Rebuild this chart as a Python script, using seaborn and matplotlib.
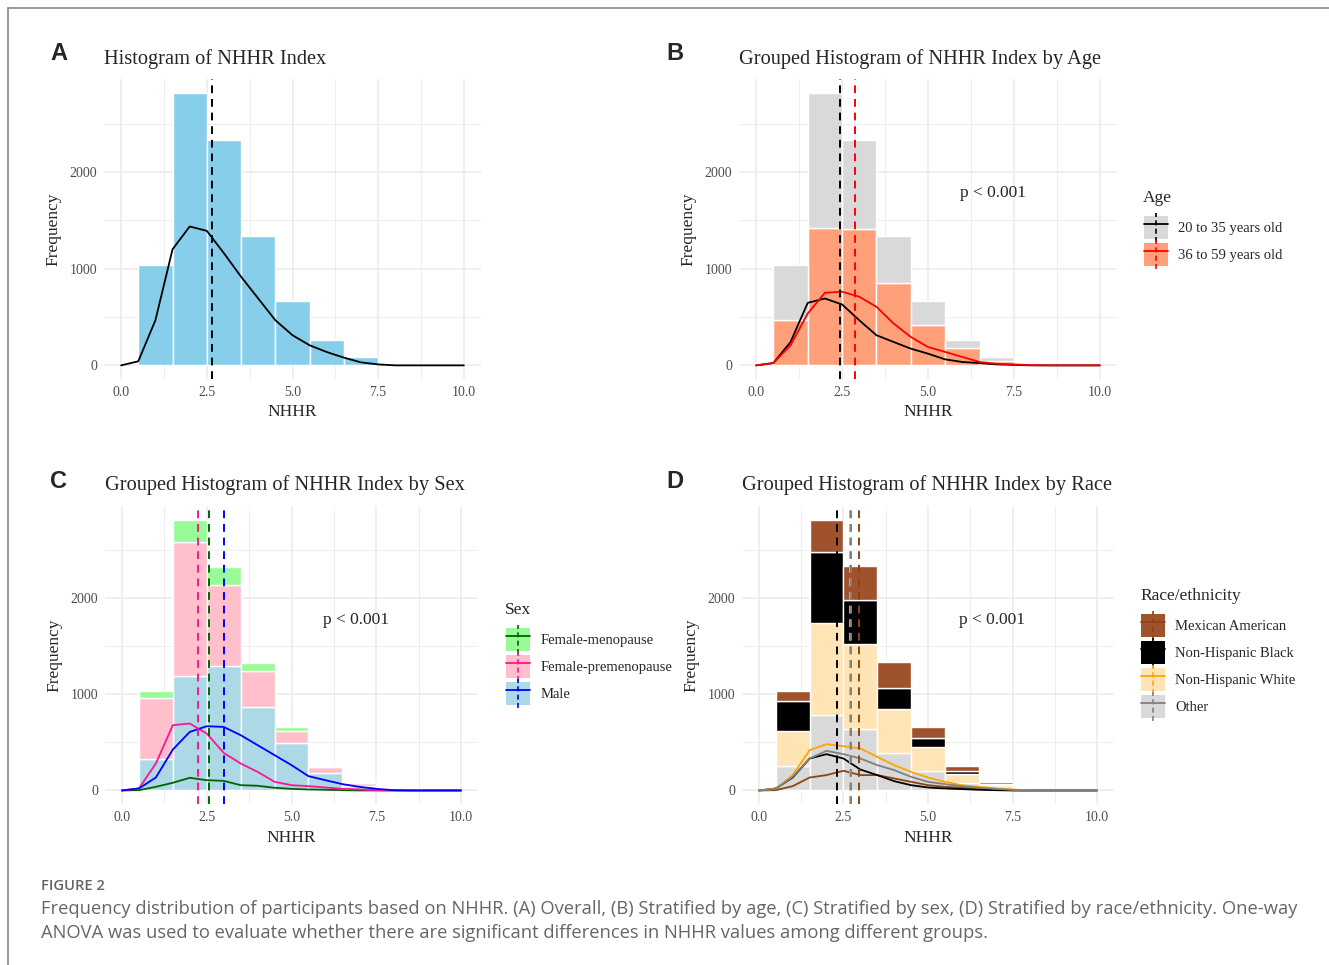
import numpy as np
import pandas as pd
import matplotlib
matplotlib.use("Agg")
import matplotlib.pyplot as plt
import seaborn as sns
from matplotlib.patches import Patch
from matplotlib.lines import Line2D
from matplotlib.legend_handler import HandlerTuple, HandlerBase
from matplotlib.ticker import MultipleLocator

# ---------------- data ----------------
bin_edges = [0.5, 1.5, 2.5, 3.5, 4.5, 5.5, 6.5, 7.5]
bin_centers = [1, 2, 3, 4, 5, 6, 7]
line_x = [0.0, 0.5, 1.0, 1.5, 2.0, 2.5, 3.0, 3.5, 4.0, 4.5, 5.0,
          5.5, 6.0, 6.5, 7.0, 7.5, 8.0, 8.5, 9.0, 9.5, 10.0]

# Panel A
counts_all = [1039, 2822, 2327, 1340, 668, 260, 83]
line_all = [0, 42, 467, 1201, 1437, 1392, 1160, 917, 692, 467, 312, 208, 138, 80, 31, 10, 0, 0, 0, 0, 0]
mean_all = 2.65

# Panel B (Age)
age_levels = ["20 to 35 years old", "36 to 59 years old"]
counts_age_young = [565, 1402, 914, 485, 246, 80, 41]
counts_age_old = [474, 1420, 1413, 855, 422, 180, 42]
line_age_young = [0, 24, 242, 647, 692, 630, 467, 312, 242, 173, 121, 62, 35, 24, 10, 5, 0, 0, 0, 0, 0]
line_age_old = [0, 24, 208, 537, 751, 762, 710, 606, 433, 294, 190, 139, 87, 35, 17, 10, 3, 0, 0, 0, 0]
mean_age = [2.44, 2.87]

# Panel C (Sex)
sex_levels = ["Female-menopause", "Female-premenopause", "Male"]
counts_sex_meno = [70, 235, 191, 90, 41, 15, 10]
counts_sex_pre = [641, 1394, 843, 371, 122, 55, 28]
counts_sex_male = [326, 1193, 1293, 870, 499, 185, 45]
line_sex_meno = [0, 3, 38, 80, 132, 107, 100, 55, 49, 28, 17, 10, 7, 3, 0, 0, 0, 0, 0, 0, 0]
line_sex_pre = [0, 21, 281, 680, 697, 593, 392, 281, 194, 90, 55, 45, 31, 17, 10, 3, 0, 0, 0, 0, 0]
line_sex_male = [0, 21, 135, 426, 610, 669, 662, 576, 472, 368, 264, 149, 107, 66, 38, 17, 3, 0, 0, 0, 0]
mean_sex = [2.57, 2.23, 3.02]

# Panel D (Race)
race_levels = ["Mexican American", "Non-Hispanic Black", "Non-Hispanic White", "Other"]
counts_race_mex = [108, 339, 347, 267, 118, 48, 13]
counts_race_black = [308, 735, 465, 218, 90, 35, 8]
counts_race_white = [365, 964, 877, 458, 249, 97, 35]
counts_race_other = [256, 784, 645, 395, 205, 73, 27]
line_race_mex = [0, 3, 45, 135, 160, 205, 160, 160, 125, 90, 55, 38, 28, 17, 10, 3, 0, 0, 0, 0, 0]
line_race_black = [0, 21, 135, 333, 378, 333, 218, 160, 97, 55, 31, 21, 14, 7, 3, 0, 0, 0, 0, 0, 0]
line_race_white = [0, 17, 160, 420, 482, 461, 437, 350, 264, 194, 135, 90, 55, 38, 21, 10, 0, 0, 0, 0, 0]
line_race_other = [0, 17, 142, 333, 413, 378, 333, 264, 212, 142, 90, 66, 45, 28, 17, 7, 0, 0, 0, 0, 0]
mean_race = [2.96, 2.32, 2.70, 2.71]

x_ticks = [0.0, 2.5, 5.0, 7.5, 10.0]
x_tick_labels = ["0.0", "2.5", "5.0", "7.5", "10.0"]
y_ticks = [0, 1000, 2000]
y_tick_labels = ["0", "1000", "2000"]

# ---------------- style ----------------
sns.set_theme(style="white")
SERIF = ["Liberation Serif", "DejaVu Serif"]
plt.rcParams["font.family"] = SERIF

W, H = 1329, 965
fig = plt.figure(figsize=(W / 100, H / 100), dpi=100)


def fx(x):
    return x / W


def fy(y):
    return 1 - y / H


def make_ax(l, t, r, b):
    return fig.add_axes([fx(l), fy(b), (r - l) / W, (b - t) / H])


def style_ax(ax):
    ax.set_xlim(-0.5, 10.5)
    ax.set_ylim(-141, 2963)
    ax.set_xticks(x_ticks)
    ax.set_xticklabels(x_tick_labels)
    ax.set_yticks(y_ticks)
    ax.set_yticklabels(y_tick_labels)
    ax.xaxis.set_minor_locator(MultipleLocator(1.25))
    ax.yaxis.set_minor_locator(MultipleLocator(500))
    ax.grid(True, which="major", color="#EBEBEB", lw=1.1)
    ax.grid(True, which="minor", color="#EBEBEB", lw=0.6)
    ax.set_axisbelow(True)
    for s in ax.spines.values():
        s.set_visible(False)
    ax.tick_params(which="both", length=0, labelsize=10, labelcolor="#4D4D4D", pad=5)
    for lab in ax.get_xticklabels() + ax.get_yticklabels():
        lab.set_family(SERIF)
    ax.set_xlabel("NHHR", fontsize=12.5, family=SERIF, labelpad=4)
    ax.set_ylabel("Frequency", fontsize=12.5, family=SERIF, labelpad=6)


def stacked_hist(ax, levels, counts_list, palette):
    rows = []
    for lev, cnts in zip(levels, counts_list):
        for c, n in zip(bin_centers, cnts):
            rows.append({"NHHR": c, "n": n, "group": lev})
    df = pd.DataFrame(rows)
    sns.histplot(data=df, x="NHHR", weights="n", hue="group", hue_order=levels,
                 bins=bin_edges, multiple="stack", palette=palette, alpha=1,
                 edgecolor="white", linewidth=1.0, legend=False, ax=ax)


def lines(ax, levels, vals_list, palette):
    rows = []
    for lev, vals in zip(levels, vals_list):
        for x, v in zip(line_x, vals):
            rows.append({"x": x, "y": v, "group": lev})
    df = pd.DataFrame(rows)
    sns.lineplot(data=df, x="x", y="y", hue="group", hue_order=levels,
                 palette=palette, lw=1.3, legend=False, ax=ax)


class VDash:
    def __init__(self, color):
        self.color = color


class HandlerVDash(HandlerBase):
    def create_artists(self, legend, orig_handle, xdescent, ydescent, width,
                       height, fontsize, trans):
        x = -xdescent + width / 2
        ln = Line2D([x, x], [-ydescent - 0.12 * height, -ydescent + 1.12 * height],
                    color=orig_handle.color, lw=1.2, linestyle=(0, (3, 2)),
                    transform=trans)
        return [ln]


def add_legend(title, levels, fills, lcols, x, ytitle, ykeytop):
    fig.text(fx(x), fy(ytitle), title, ha="left", va="center", fontsize=12.5,
             family=SERIF)
    handles = []
    for f, c in zip(fills, lcols):
        handles.append((Patch(facecolor=f, edgecolor="none"),
                        Line2D([], [], color=c, lw=1.3),
                        VDash(c)))
    leg = fig.legend(handles, levels, loc="upper left",
                     bbox_to_anchor=(fx(x + 1), fy(ykeytop)), frameon=False,
                     borderpad=0, borderaxespad=0, handlelength=1.65,
                     handleheight=2.05, labelspacing=0.27, handletextpad=0.7,
                     handler_map={tuple: HandlerTuple(ndivide=1, pad=0),
                                  VDash: HandlerVDash()},
                     prop={"family": SERIF, "size": 10.5})
    return leg


def vline(ax, x, color):
    ax.axvline(x, color=color, lw=1.4, linestyle=(0, (4, 3)), zorder=5)


def ptext(ax):
    ax.text(6.9, 1780, "p < 0.001", ha="center", va="center", fontsize=12.5,
            family=SERIF)


# ---------------- Panel A ----------------
axA = make_ax(104, 79, 481, 379)
dfA = pd.DataFrame({"NHHR": bin_centers, "n": counts_all})
sns.histplot(data=dfA, x="NHHR", weights="n", bins=bin_edges, color="#87CEEB",
             alpha=1, edgecolor="white", linewidth=1.0, ax=axA)
sns.lineplot(x=line_x, y=line_all, color="black", lw=1.3, ax=axA)
vline(axA, mean_all, "black")
style_ax(axA)

# ---------------- Panel B ----------------
axB = make_ax(739, 79, 1117, 379)
stacked_hist(axB, age_levels, [counts_age_young, counts_age_old],
             ["#D9D9D9", "#FFA07A"])
lines(axB, age_levels, [line_age_young, line_age_old], ["black", "red"])
vline(axB, mean_age[0], "black")
vline(axB, mean_age[1], "red")
ptext(axB)
style_ax(axB)
add_legend("Age", age_levels, ["#D9D9D9", "#FFA07A"], ["black", "red"], 1143, 198, 216)

# ---------------- Panel C ----------------
axC = make_ax(105, 506, 478, 804)
sex_fill = ["#98FB98", "#FFC0CB", "#ADD8E6"]
sex_line = ["#006400", "#FF1493", "#0000FF"]
stacked_hist(axC, sex_levels, [counts_sex_meno, counts_sex_pre, counts_sex_male], sex_fill)
lines(axC, sex_levels, [line_sex_meno, line_sex_pre, line_sex_male], sex_line)
for m, c in zip(mean_sex, sex_line):
    vline(axC, m, c)
ptext(axC)
style_ax(axC)
add_legend("Sex", sex_levels, sex_fill, sex_line, 505, 610, 628)

# ---------------- Panel D ----------------
axD = make_ax(742, 506, 1114, 804)
race_fill = ["#A0522D", "#000000", "#FFE4B5", "#D9D9D9"]
race_line = ["#8B4513", "#000000", "#FFA500", "#808080"]
stacked_hist(axD, race_levels,
             [counts_race_mex, counts_race_black, counts_race_white, counts_race_other],
             race_fill)
lines(axD, race_levels,
      [line_race_mex, line_race_black, line_race_white, line_race_other], race_line)
for m, c in zip(mean_race, race_line):
    vline(axD, m, c)
ptext(axD)
style_ax(axD)
add_legend("Race/ethnicity", race_levels, race_fill, race_line, 1140, 596, 614)

# ---------------- titles & letters ----------------
titles = [("A", 50, 53, "Histogram of NHHR Index", 104, 59),
          ("B", 666, 53, "Grouped Histogram of NHHR Index by Age", 739, 59),
          ("C", 50, 482, "Grouped Histogram of NHHR Index by Sex", 105, 485),
          ("D", 666, 482, "Grouped Histogram of NHHR Index by Race", 742, 485)]
for let, lx, ly, t, tx, ty in titles:
    fig.text(fx(lx), fy(ly), let, ha="left", va="center", fontsize=17,
             fontweight="bold", family=["Liberation Sans", "DejaVu Sans"])
    fig.text(fx(tx), fy(ty), t, ha="left", va="center", fontsize=14.7, family=SERIF)

# ---------------- caption ----------------
CAP = ["Open Sans", "DejaVu Sans"]
fig.text(fx(41), fy(886), "FIGURE 2", ha="left", va="center", fontsize=10.6,
         fontweight="semibold", color="#666666", family=CAP)
fig.text(fx(41), fy(909),
         "Frequency distribution of participants based on NHHR. (A) Overall, (B) Stratified by age, "
         "(C) Stratified by sex, (D) Stratified by race/ethnicity. One-way",
         ha="left", va="center", fontsize=13.2, color="#666666", family=CAP)
fig.text(fx(41), fy(933),
         "ANOVA was used to evaluate whether there are significant differences in NHHR values among different groups.",
         ha="left", va="center", fontsize=13.2, color="#666666", family=CAP)

# ---------------- frame ----------------
fig.add_artist(Line2D([fx(8), 1.0], [fy(8), fy(8)], color="#888888", lw=1.2,
                      transform=fig.transFigure))
fig.add_artist(Line2D([fx(8), fx(8)], [fy(8), 0.0], color="#888888", lw=1.2,
                      transform=fig.transFigure))

fig.savefig("out.png", dpi=100)
